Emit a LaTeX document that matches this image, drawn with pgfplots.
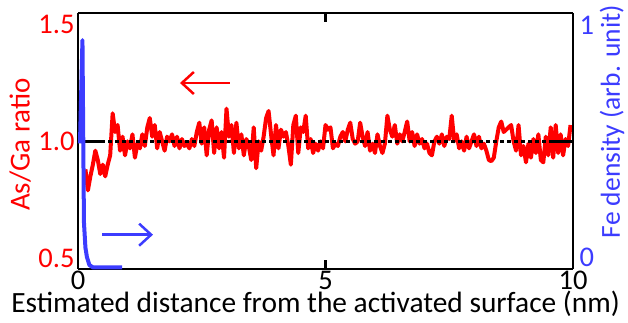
\documentclass[border=0pt]{standalone}
\usepackage{fontspec}
\setmainfont{Carlito}
\usepackage{pgfplots}
\pgfplotsset{compat=1.18}
\usetikzlibrary{arrows.meta}
\definecolor{myred}{RGB}{255,0,0}
\definecolor{myblue}{RGB}{60,60,255}
\begin{document}
\begin{tikzpicture}[x=1pt,y=1pt]
\path[use as bounding box] (-78,-54) rectangle (550,269);
\begin{axis}[
  at={(0,0)}, anchor=south west,
  scale only axis, width=495pt, height=256pt,
  xmin=0, xmax=10, ymin=0.453, ymax=1.55,
  axis line style={line width=2.8pt, black},
  axis y line*=left,
  axis x line*=box,
  xtick={0,5,10}, xticklabels={0,5,10},
  ytick={0.5,1.0,1.5},
  yticklabels={0.5,1.0,1.5},
  tick align=inside,
  major tick length=9pt,
  every tick/.style={line width=2.5pt, black},
  ytick style={draw=none},
  /pgf/number format/assume math mode=true,
  tick label style={font=\fontsize{28.5}{30}\selectfont},
  yticklabel style={text=myred, xshift=0pt},
  xticklabel style={anchor=base, inner sep=0pt, yshift=-20.5pt},
  xlabel={Estimated distance from the activated surface (nm)},
  ylabel={As/Ga ratio},
  label style={font=\fontsize{29}{32}\selectfont},
  xlabel style={font=\fontsize{29.4}{32}\selectfont, inner sep=0pt, at={(axis description cs:0.5,0)}, anchor=base, yshift=-43pt, xshift=-10pt},
  ylabel style={text=myred, at={(axis description cs:-0.117,0.486)}, anchor=center},
  clip=false,
]
\addplot[myred, line width=4pt, line join=round] coordinates {
(0.15,0.88)(0.20,0.79)(0.25,0.85)(0.30,0.90)(0.35,0.96)(0.40,0.92)(0.45,0.86)(0.50,0.90)(0.55,0.85)(0.60,0.90)
(0.65,0.94)(0.70,1.12)(0.75,1.04)(0.80,1.07)(0.85,0.96)(0.90,1.02)(0.95,0.94)(1.00,1.00)(1.05,0.97)(1.10,1.03)
(1.15,0.93)(1.20,0.99)(1.25,0.97)(1.30,1.03)(1.35,0.98)(1.40,1.06)(1.45,1.10)(1.50,1.02)(1.55,1.07)(1.60,0.97)
(1.65,1.04)(1.70,1.00)(1.75,0.96)(1.80,1.02)(1.85,1.00)(1.90,1.03)(1.95,0.98)(2.00,1.02)(2.05,0.97)(2.10,1.01)
(2.15,0.98)(2.20,0.99)(2.25,0.97)(2.30,1.01)(2.35,0.98)(2.40,1.04)(2.45,1.08)(2.50,0.99)(2.55,1.06)(2.60,0.94)
(2.65,1.05)(2.70,1.09)(2.75,0.95)(2.80,1.06)(2.85,0.97)(2.90,1.04)(2.95,0.93)(3.00,1.14)(3.05,1.02)(3.10,1.07)
(3.15,0.95)(3.20,1.08)(3.25,0.97)(3.30,1.03)(3.35,0.94)(3.40,1.01)(3.45,0.98)(3.50,0.92)(3.55,1.06)(3.60,0.885)
(3.65,1.00)(3.70,0.96)(3.75,1.02)(3.80,1.10)(3.85,1.13)(3.90,1.03)(3.95,0.94)(4.00,1.07)(4.05,0.97)(4.10,1.05)
(4.15,1.02)(4.20,1.04)(4.25,0.98)(4.30,0.90)(4.35,1.07)(4.40,1.11)(4.45,0.95)(4.50,1.06)(4.55,1.04)(4.60,1.11)
(4.65,0.97)(4.70,1.01)(4.75,0.95)(4.80,0.99)(4.85,0.96)(4.90,1.00)(4.95,0.97)(5.00,1.07)(5.05,1.05)(5.10,1.06)
(5.15,0.97)(5.20,0.99)(5.25,0.98)(5.30,1.02)(5.35,1.04)(5.40,1.00)(5.45,1.05)(5.50,1.08)(5.55,1.01)(5.60,0.99)
(5.65,1.00)(5.70,1.08)(5.75,1.02)(5.80,0.98)(5.85,1.04)(5.90,0.96)(5.95,0.99)(6.00,0.95)(6.05,1.03)(6.10,0.98)
(6.15,0.95)(6.20,0.99)(6.25,1.11)(6.30,1.05)(6.35,1.02)(6.40,1.07)(6.45,0.99)(6.50,1.03)(6.55,1.00)(6.60,1.04)
(6.65,1.085)(6.70,1.00)(6.75,1.04)(6.80,0.98)(6.85,1.03)(6.90,0.99)(6.95,1.01)(7.00,0.97)(7.05,0.99)(7.10,0.95)
(7.15,0.94)(7.20,1.00)(7.25,1.02)(7.30,0.99)(7.35,1.03)(7.40,0.98)(7.45,1.02)(7.50,1.01)(7.55,1.11)(7.60,1.00)
(7.65,1.03)(7.70,0.97)(7.75,1.00)(7.80,0.96)(7.85,1.02)(7.90,0.97)(7.95,1.00)(8.00,1.03)(8.05,0.98)(8.10,1.02)
(8.15,0.97)(8.20,0.99)(8.25,0.96)(8.30,0.92)(8.35,0.915)(8.40,0.93)(8.45,1.00)(8.50,1.06)(8.55,1.085)(8.60,1.04)
(8.65,1.05)(8.70,1.06)(8.75,1.07)(8.80,1.00)(8.85,0.96)(8.90,1.07)(8.95,0.94)(9.00,0.98)(9.05,0.91)(9.10,0.99)
(9.15,0.93)(9.20,1.01)(9.25,0.95)(9.30,1.03)(9.35,0.92)(9.40,0.91)(9.45,1.02)(9.50,0.94)(9.55,1.06)(9.60,0.93)
(9.65,1.07)(9.70,0.95)(9.75,1.03)(9.80,0.94)(9.85,1.01)(9.90,0.98)(9.95,1.07)
};
\addplot[black, line width=3pt, dash pattern=on 4pt off 3pt] coordinates {(0.05,1.0)(9.6,1.0)};
\addplot[black, line width=3pt] coordinates {(0,1.0)(0.5,1.0)};
\addplot[black, line width=3pt] coordinates {(9.6,1.0)(10,1.0)};
\draw[myred, line width=2.5pt, -{Straight Barb[length=12pt,width=22pt]}] (axis cs:3.07,1.25) -- (axis cs:2.06,1.25);
\draw[myblue, line width=2.5pt, -{Straight Barb[length=12pt,width=22pt]}] (axis cs:0.485,0.60) -- (axis cs:1.515,0.60);
\end{axis}
\begin{axis}[
  at={(0,0)}, anchor=south west,
  scale only axis, width=495pt, height=256pt,
  xmin=0, xmax=10, ymin=-0.052, ymax=1.052,
  axis x line=none,
  axis y line*=right,
  axis line style={line width=2.8pt, black},
  ytick={0,1}, yticklabels={0,1},
  ytick style={draw=none},
  /pgf/number format/assume math mode=true,
  tick label style={font=\fontsize{28.5}{30}\selectfont},
  yticklabel style={text=myblue, xshift=3pt},
  ylabel={Fe density (arb. unit)},
  label style={font=\fontsize{27.5}{30}\selectfont},
  ylabel style={text=myblue, at={(axis description cs:1.079,0.576)}, anchor=center},
  clip=false,
]
\addplot[myblue, line width=4pt, line join=round] coordinates {
(0.04,0.49)(0.09,0.935)(0.12,0.15)(0.15,0.04)(0.18,0.0)(0.23,-0.035)(0.30,-0.045)(0.89,-0.045)
};
\end{axis}
\end{tikzpicture}
\end{document}
